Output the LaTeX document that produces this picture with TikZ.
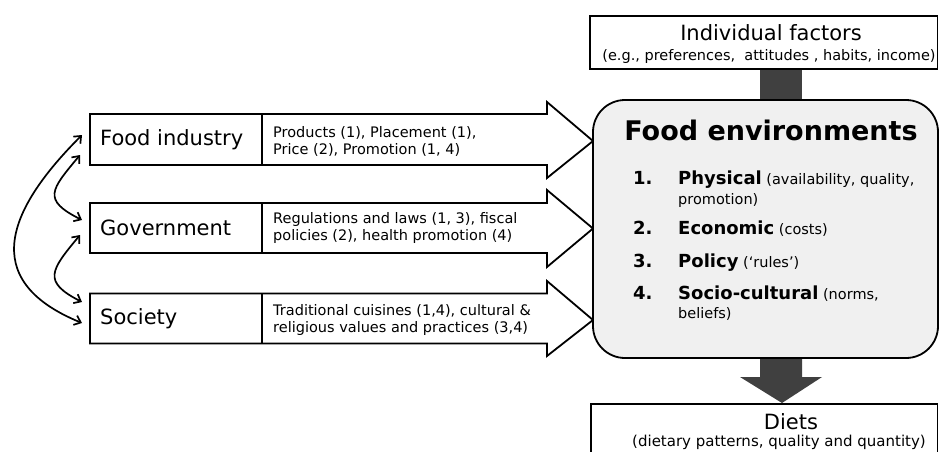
\documentclass[tikz,border=0pt]{standalone}
\usepackage{fontspec}
\setmainfont{DejaVu Sans}
\usetikzlibrary{arrows.meta}
\definecolor{darkfill}{RGB}{64,64,64}
\definecolor{envfill}{RGB}{240,240,240}
\tikzset{
  outline/.style={draw=black, line width=1.8pt, line join=miter},
  flowarrow/.style={outline, fill=white},
  actorlabel/.style={anchor=west, inner sep=0pt, font=\fontsize{21}{25}\selectfont},
  arrowtext/.style={anchor=west, inner sep=0pt, align=left, font=\fontsize{14.5}{17}\selectfont},
  numlabel/.style={anchor=base west, inner sep=0pt, font=\fontsize{18}{20}\bfseries\selectfont},
  itemline/.style={anchor=base west, inner sep=0pt, font=\fontsize{14.5}{17}\selectfont},
  bigtext/.style={inner sep=0pt, font=\fontsize{21}{25}\selectfont},
  smalltext/.style={inner sep=0pt, font=\fontsize{14.5}{17}\selectfont},
  link/.style={line width=1.7pt, {Straight Barb[length=6pt,width=10pt]}-{Straight Barb[length=6pt,width=10pt]}},
}
\newcommand{\itembold}[1]{{\fontsize{18}{20}\bfseries\selectfont #1}}
\begin{document}
\begin{tikzpicture}[x=1pt,y=-1pt]
\useasboundingbox (0,0) rectangle (939,451);

% flow arrows from the three actors
\foreach \t/\b/\ht/\hb/\tip in {114/165/102/178/141, 203/253/190/267/228.5, 293.5/343.5/281/356/320} {
  \draw[flowarrow] (90,\t) -- (547,\t) -- (547,\ht) -- (593,\tip) -- (547,\hb) -- (547,\b) -- (90,\b) -- cycle;
  \draw[outline] (262,\t) -- (262,\b);
}

\node[actorlabel] (fi) at (100,140) {Food industry};
\node[actorlabel] (gov) at (100,228) {Government};
\node[actorlabel] (soc) at (100,319) {Society};

\node[arrowtext] (fit) at (273,141) {Products (1), Placement (1),\\Price (2), Promotion (1, 4)};
\node[arrowtext] (govt) at (273,228) {Regulations and laws (1, 3), fiscal\\policies (2), health promotion (4)};
\node[arrowtext] (soct) at (273,320) {Traditional cuisines (1,4), cultural \&\\religious values and practices (3,4)};

% curved two-way links
\coordinate (lAa) at (82,135);
\coordinate (lAb) at (82,323);
\coordinate (lBa) at (80,155);
\coordinate (lBb) at (82,220);
\coordinate (lCa) at (80,235);
\coordinate (lCb) at (82,302);
\draw[link] (lAa) .. controls (9.6,207.4) and (-24,279.6) .. (lAb);
\draw[link] (lBa) .. controls (51,189.8) and (41.7,199.8) .. (lBb);
\draw[link] (lCa) .. controls (51,270) and (41.7,281.5) .. (lCb);

% dark connectors
\fill[darkfill] (760,69) rectangle (802,100);
\fill[darkfill] (760,358) -- (802,358) -- (802,377) -- (822,377) -- (782,403) -- (740,377) -- (760,377) -- cycle;

% individual factors
\draw[outline, fill=white] (590,16) rectangle (937.5,69);
\node[bigtext] (indiv) at (771,33) {Individual factors};
\node[smalltext] (indivsub) at (769,56) {(e.g., preferences,\ \ attitudes\ , habits, income)};

% food environments
\draw[outline, fill=envfill, rounded corners=32pt] (593,100) rectangle (938,358);
\node[inner sep=0pt, font=\fontsize{27}{32}\bfseries\selectfont] (envtitle) at (771,130) {Food environments};
\node[numlabel] (n1) at (633,184) {1.};
\node[numlabel] (n2) at (633,234) {2.};
\node[numlabel] (n3) at (633,267) {3.};
\node[numlabel] (n4) at (633,299) {4.};
\node[itemline] (i1) at (678,184) {\itembold{Physical} (availability, quality,};
\node[itemline] (i1b) at (678,204) {promotion)};
\node[itemline] (i2) at (678,234) {\itembold{Economic} (costs)};
\node[itemline] (i3) at (678,267) {\itembold{Policy} (‘rules’)};
\node[itemline] (i4) at (678,299) {\itembold{Socio-cultural} (norms,};
\node[itemline] (i4b) at (678,318) {beliefs)};

% diets
\draw[outline, fill=white] (591,404) rectangle (937.5,470);
\node[bigtext, anchor=base] (diets) at (791,429) {Diets};
\node[inner sep=0pt, anchor=base, font=\fontsize{15}{18}\selectfont] (dietsub) at (779,446) {(dietary patterns, quality and quantity)};
\end{tikzpicture}
\end{document}
